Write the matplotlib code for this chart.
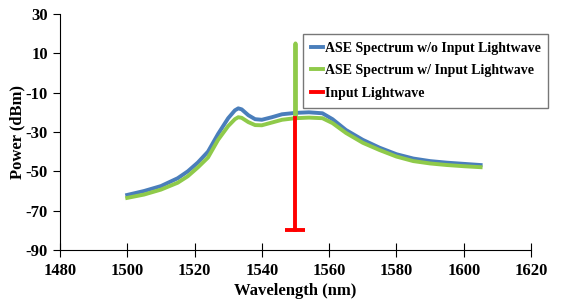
import matplotlib.pyplot as plt

# ASE spectrum without input lightwave
wl_blue = [1500, 1505, 1510, 1515, 1518, 1521, 1524, 1527, 1530, 1532, 1533, 1534, 1536, 1538,
           1540, 1543, 1546, 1550, 1554, 1558, 1561, 1565, 1570, 1575, 1580, 1585, 1590, 1595,
           1600, 1605]
p_blue = [-62, -60, -57.5, -53.5, -50, -45.5, -40, -31, -23, -19, -18, -18.5, -21.5, -23.5,
          -23.8, -22.5, -21, -20.3, -20, -20.5, -23.5, -29, -34, -38, -41.3, -43.5, -44.8, -45.6,
          -46.2, -46.8]

# ASE spectrum with input lightwave (spike at 1550 nm)
wl_green = [1500, 1505, 1510, 1515, 1518, 1521, 1524, 1527, 1530, 1532, 1533, 1534, 1536, 1538,
            1540, 1543, 1546, 1549.9, 1550, 1550.1, 1554, 1558, 1561, 1565, 1570, 1575, 1580,
            1585, 1590, 1595, 1600, 1605]
p_green = [-63.5, -61.8, -59.3, -55.8, -52.5, -48, -43, -34, -27, -23.5, -22.5, -22.8, -25, -26.5,
           -26.6, -25.2, -23.8, -23, 15, -23, -22.7, -23, -25.5, -30.5, -35.5, -39.2, -42.5,
           -44.8, -46, -46.8, -47.4, -47.9]

# input lightwave
wl_input = [1550, 1550]
p_input = [-80, -23]

plt.rcParams['font.family'] = ['Liberation Serif', 'DejaVu Serif']
plt.rcParams['font.weight'] = 'bold'
plt.rcParams['axes.unicode_minus'] = False

fig = plt.figure(figsize=(5.65, 3.02), dpi=100)
ax = fig.add_axes([0.106, 0.172, 0.834, 0.782])

ax.plot(wl_blue, p_blue, color='#4a7ebb', lw=2.8, label='ASE Spectrum w/o Input Lightwave')
ax.plot(wl_green, p_green, color='#8fca4a', lw=2.8, label='ASE Spectrum w/ Input Lightwave')
ax.plot(wl_input, p_input, color='#ff0000', lw=2.8, label='Input Lightwave')
ax.plot(wl_input[0], p_input[0], color='#ff0000', marker='_', ms=14, mew=2.8)

ax.set_xlim(1480, 1620)
ax.set_ylim(-90, 30)
ax.set_xticks(range(1480, 1621, 20))
ax.set_yticks(range(-90, 31, 20))
ax.spines['top'].set_visible(False)
ax.spines['right'].set_visible(False)
ax.tick_params(labelsize=12)
ax.tick_params(axis='x', direction='inout', length=10, pad=4)
ax.tick_params(axis='y', direction='out', length=5)
ax.set_xlabel('Wavelength (nm)', fontsize=12, fontweight='bold', labelpad=3)
ax.set_ylabel('Power (dBm)', fontsize=12, fontweight='bold', labelpad=0)

leg = ax.legend(loc='upper left', bbox_to_anchor=(0.516, 0.915), borderaxespad=0, fontsize=10,
                handlelength=0.9, handletextpad=0.1, frameon=True, fancybox=False,
                borderpad=0.55, labelspacing=0.7)
leg.get_frame().set_edgecolor('#555555')
leg.get_frame().set_linewidth(1.0)

fig.savefig('out.png', dpi=100)
